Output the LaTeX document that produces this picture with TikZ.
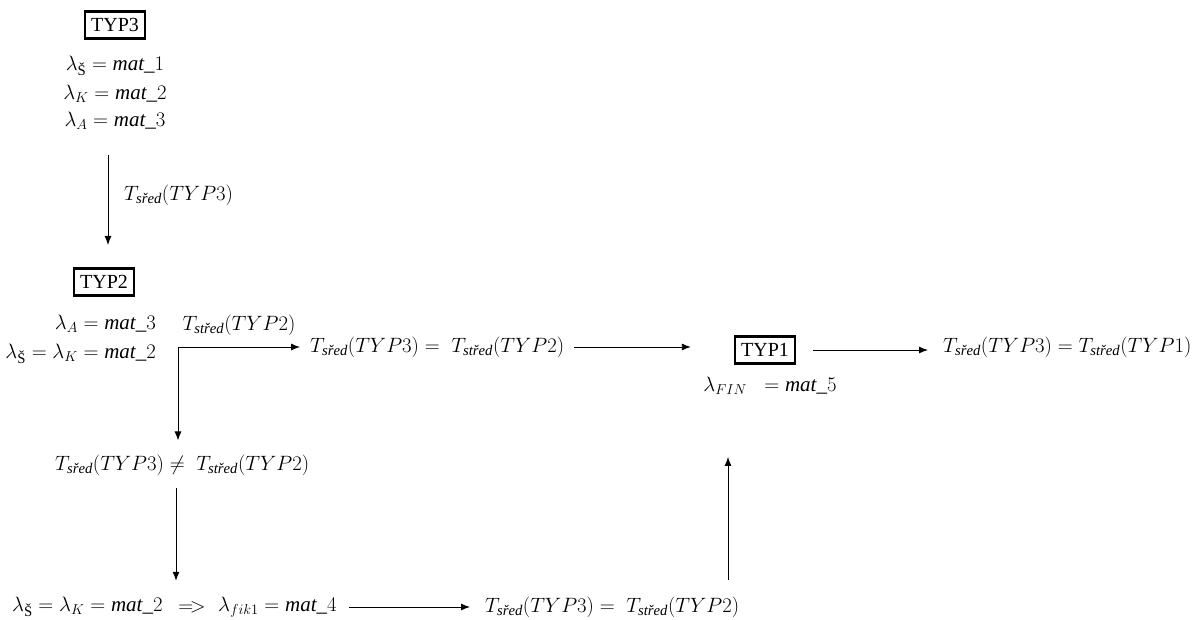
\documentclass[tikz,border=0pt]{standalone}
\usepackage{amsmath}
\usepackage{fontspec}
\setmainfont{Liberation Serif}
\usetikzlibrary{arrows.meta}
\newcommand\Tsub[1]{T_{\textit{#1}}}
\newcommand\mat[1]{\mathit{mat}\text{\_}#1}
\tikzset{
  every node/.style={font=\fontsize{21}{25}\selectfont, inner sep=2pt},
  typbox/.style={draw, line width=2.6pt, inner xsep=6pt, inner ysep=7pt, font=\fontsize{20}{24}\selectfont},
  arr/.style={-{Latex[length=9pt,width=7pt]}, line width=0.9pt},
}
\begin{document}
\begin{tikzpicture}[x=1pt,y=-1pt]
\useasboundingbox (0,0) rectangle (1193,620);
% TYP3
\node[typbox] (typ3) at (115,25) {TYP3};
\node (l31) at (115,66) {$\lambda_{\text{Š}} = \mat{1}$};
\node (l32) at (115,94) {$\lambda_{K} = \mat{2}$};
\node (l33) at (115,121) {$\lambda_{A} = \mat{3}$};
\coordinate (a3s) at (108,155);
\coordinate (a3e) at (108,245);
\draw[arr] (a3s) -- (a3e);
\node[anchor=west] (lab3) at (122,195) {$\Tsub{sřed}(TYP3)$};
% TYP2
\node[typbox] (typ2) at (104,282) {TYP2};
\node[anchor=east] (l21) at (158,324) {$\lambda_{A} = \mat{3}$};
\node[anchor=east] (l22) at (158,354) {$\lambda_{\text{Š}} = \lambda_{K} = \mat{2}$};
\coordinate (split) at (178,347);
\coordinate (vx1) at (176,0);
\coordinate (vx2) at (728,0);
\node[anchor=west] (r2) at (308,347) {$\Tsub{sřed}(TYP3) =\; \Tsub{střed}(TYP2)$};
\node (lab2) at (239,325) {$\Tsub{střed}(TYP2)$};
\draw[arr] (split) -- ([xshift=-8pt]split -| r2.west);
% TYP1
\node[typbox] (typ1) at (765,350) {TYP1};
\node (lfin) at (770,386) {$\lambda_{FIN}\;\; = \mat{5}$};
\node[anchor=west] (r1) at (941,347) {$\Tsub{sřed}(TYP3) = \Tsub{střed}(TYP1)$};
\draw[arr] ([xshift=8pt]split -| r2.east) -- ([xshift=-43pt]split -| typ1.west);
\draw[arr] ([xshift=17pt]typ1.east) -- ([xshift=-13pt]typ1.east -| r1.west);
% not equal branch
\node[anchor=west] (neq) at (53,465) {$\Tsub{sřed}(TYP3) \neq\; \Tsub{střed}(TYP2)$};
\draw[arr] (split) -- ([yshift=12pt]split |- neq.north);
% bottom row
\node[anchor=west] (b1) at (10,607) {$\lambda_{\text{Š}} = \lambda_{K} = \mat{2}$};
\node (b2) at (192,607) {$=\!>$};
\node[anchor=west] (b3) at (216,607) {$\lambda_{fik1} = \mat{4}$};
\node[anchor=west] (b4) at (483,607) {$\Tsub{sřed}(TYP3) =\; \Tsub{střed}(TYP2)$};
\draw[arr] ([yshift=-10pt]vx1 |- neq.south) -- ([yshift=14pt]vx1 |- b1.north);
\draw[arr] ([xshift=10pt]b3.east) -- ([xshift=-13pt]b4.west);
\draw[arr] ([yshift=14pt]vx2 |- b4.north) -- ([yshift=-60pt]vx2 |- lfin.south);
\end{tikzpicture}
\end{document}
